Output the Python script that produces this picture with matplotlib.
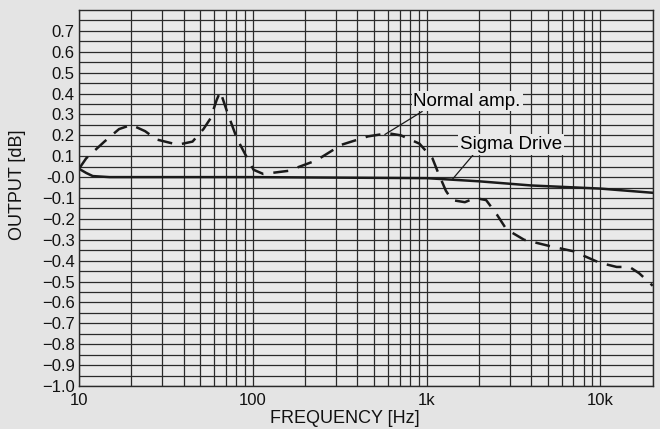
import numpy as np
import matplotlib
matplotlib.use("Agg")
import matplotlib.pyplot as plt
from matplotlib.ticker import FixedLocator, NullFormatter

plt.rcParams['font.family'] = ['Liberation Sans', 'DejaVu Sans']

# Normal amp. (dashed curve)
normal_f = [10, 11, 14, 17, 20, 24, 28, 37, 45, 52, 57, 62, 65, 71, 81, 91, 101, 115,
            160, 200, 232, 324, 460, 600, 711, 910, 1080, 1160, 1290, 1400, 1660,
            1900, 2200, 2540, 2880, 3640, 5100, 7000, 9900, 12400, 14700, 16700, 20000]
normal_db = [0.04, 0.09, 0.17, 0.23, 0.25, 0.22, 0.18, 0.155, 0.17, 0.23, 0.28, 0.37, 0.41,
             0.315, 0.185, 0.105, 0.035, 0.015, 0.03, 0.06, 0.08, 0.155, 0.195, 0.21,
             0.20, 0.16, 0.09, 0.025, -0.065, -0.11, -0.12, -0.10, -0.11, -0.18, -0.25,
             -0.30, -0.33, -0.355, -0.41, -0.43, -0.43, -0.46, -0.52]

# Sigma Drive (solid curve)
sigma_f = [10, 11, 12, 15, 100, 1000, 2000, 4000, 10000, 20000]
sigma_db = [0.04, 0.02, 0.005, 0.0, 0.0, -0.005, -0.02, -0.04, -0.055, -0.075]

xticks = [10, 100, 1000, 10000]
xlabels = ['10', '100', '1k', '10k']
yticks = [round(v, 1) for v in np.arange(-1.0, 0.71, 0.1)]

fig = plt.figure(figsize=(6.6, 4.29), dpi=100, facecolor='#e4e4e4')
ax = fig.add_axes([0.1197, 0.1002, 0.8693, 0.8765])
ax.set_facecolor('#e9e9e9')

ax.set_xscale('log')
ax.set_xlim(10, 20000)
ax.set_ylim(-1.0, 0.8)

minor_x = [m * 10 ** d for d in range(1, 5) for m in range(1, 10) if m * 10 ** d <= 20000]
ax.xaxis.set_major_locator(FixedLocator(xticks))
ax.xaxis.set_minor_locator(FixedLocator(minor_x))
ax.xaxis.set_minor_formatter(NullFormatter())
ax.set_xticklabels(xlabels)
ax.set_yticks(yticks)
ax.set_yticklabels(['%.1f' % v if v >= 0 else '\u2212%.1f' % -v for v in yticks])
ax.yaxis.set_minor_locator(FixedLocator(np.arange(-1.0, 0.8, 0.05)))

ax.grid(which='both', axis='both', color='#2a2a2a', lw=0.9)
ax.set_axisbelow(True)
ax.tick_params(which='both', length=0, labelsize=12, colors='#111111', pad=3)
ax.tick_params(axis='x', pad=5)
for s in ax.spines.values():
    s.set_color('#2a2a2a')
    s.set_linewidth(1.0)

ax.plot(normal_f, normal_db, color='#1a1a1a', lw=1.8, ls=(0, (6, 4)))
ax.plot(sigma_f, sigma_db, color='#1a1a1a', lw=1.8)

ax.annotate('Normal amp.', xy=(575, 0.204), xytext=(840, 0.364),
            fontsize=13.5, va='center', ha='left',
            bbox=dict(boxstyle='square,pad=0.1', fc='#e9e9e9', ec='none'),
            arrowprops=dict(arrowstyle='-', color='#1a1a1a', lw=0.9,
                            shrinkA=0, shrinkB=0, relpos=(0.11, 0.0)))
ax.annotate('Sigma Drive', xy=(1409, -0.01), xytext=(1560, 0.155),
            fontsize=13.5, va='center', ha='left',
            bbox=dict(boxstyle='square,pad=0.1', fc='#e9e9e9', ec='none'),
            arrowprops=dict(arrowstyle='-', color='#1a1a1a', lw=0.9,
                            shrinkA=0, shrinkB=0, relpos=(0.14, 0.0)))

ax.set_xlabel('FREQUENCY [Hz]', fontsize=13, labelpad=0, color='#111111')
ax.xaxis.set_label_coords(0.463, -0.063)
ax.set_ylabel('OUTPUT [dB]', fontsize=13, labelpad=4, color='#111111')
ax.yaxis.set_label_coords(-0.092, 0.535)

fig.savefig('out.png', dpi=100, facecolor=fig.get_facecolor())
